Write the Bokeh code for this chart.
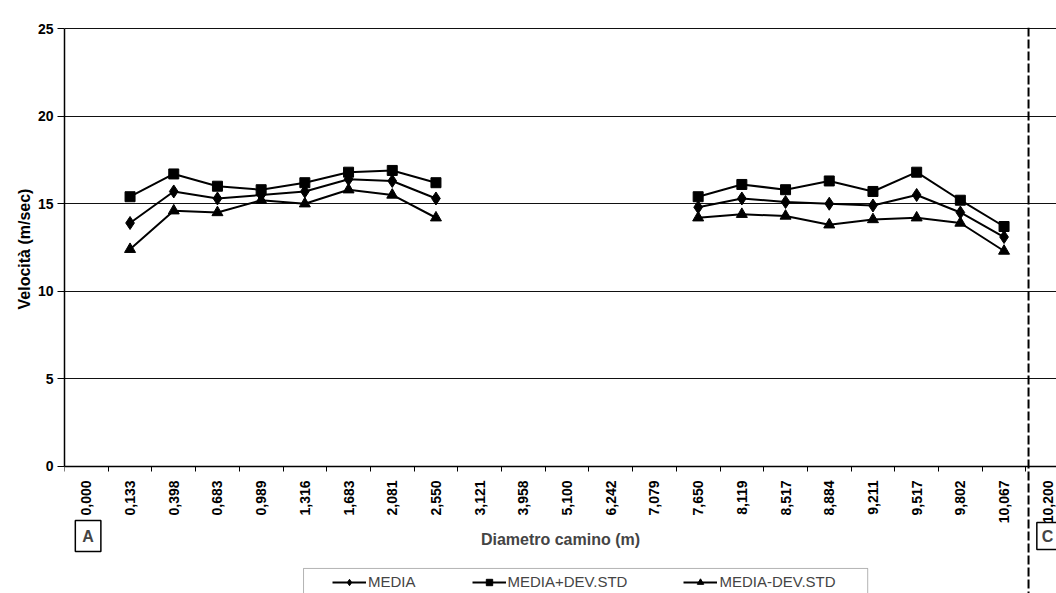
import math
from bokeh.plotting import figure
from bokeh.models import (FixedTicker, Legend, LegendItem, Label, Span, Range1d, Title,
                          BoxAnnotation)
from bokeh.embed import file_html
from bokeh.resources import INLINE

categories = ["0,000", "0,133", "0,398", "0,683", "0,989", "1,316", "1,683", "2,081",
              "2,550", "3,121", "3,958", "5,100", "6,242", "7,079", "7,650", "8,119",
              "8,517", "8,884", "9,211", "9,517", "9,802", "10,067", "10,200"]
nan = float("nan")
media = [nan, 13.9, 15.7, 15.3, 15.5, 15.7, 16.4, 16.3, 15.3, nan, nan, nan, nan, nan,
         14.8, 15.3, 15.1, 15.0, 14.9, 15.5, 14.5, 13.1, nan]
media_plus = [nan, 15.4, 16.7, 16.0, 15.8, 16.2, 16.8, 16.9, 16.2, nan, nan, nan, nan, nan,
              15.4, 16.1, 15.8, 16.3, 15.7, 16.8, 15.2, 13.7, nan]
media_minus = [nan, 12.4, 14.6, 14.5, 15.2, 15.0, 15.8, 15.5, 14.2, nan, nan, nan, nan, nan,
               14.2, 14.4, 14.3, 13.8, 14.1, 14.2, 13.9, 12.3, nan]
y_ticks = [0, 5, 10, 15, 20, 25]

FONT = "Liberation Sans"
xs = list(range(len(categories)))

p = figure(width=1056, height=593, output_backend="svg", toolbar_location=None,
           x_range=Range1d(-0.5, 22.2), y_range=Range1d(-7.25, 25.06),
           min_border_left=64, min_border_right=0, min_border_top=27, min_border_bottom=0)
p.outline_line_color = None
p.background_fill_color = "white"
p.xgrid.visible = False
p.ygrid.grid_line_color = "#111111"
p.ygrid.grid_line_width = 1.2

# x axis, drawn at y = 0 inside the frame
p.xaxis.fixed_location = 0
p.xaxis.ticker = FixedTicker(ticks=xs, minor_ticks=[i - 0.5 for i in range(len(categories) + 1)])
p.xaxis.major_label_overrides = {i: c for i, c in enumerate(categories)}
p.xaxis.major_label_orientation = math.pi / 2
p.xaxis.major_tick_line_color = None
p.xaxis.minor_tick_line_color = "black"
p.xaxis.minor_tick_out = 5
p.xaxis.minor_tick_in = 0
p.xaxis.major_label_standoff = 8
p.xaxis.axis_line_color = "black"
p.xaxis.axis_line_width = 1.5
p.xaxis.major_label_text_font = FONT
p.xaxis.major_label_text_font_style = "bold"
p.xaxis.major_label_text_font_size = "14px"
p.xaxis.major_label_text_color = "black"
p.xaxis.axis_label = "Diametro camino (m)"
p.xaxis.axis_label_text_font = FONT
p.xaxis.axis_label_text_font_style = "bold"
p.xaxis.axis_label_text_font_size = "16px"
p.xaxis.axis_label_standoff = 5

# y axis
p.yaxis.bounds = (0, 25)
p.yaxis.ticker = FixedTicker(ticks=y_ticks)
p.yaxis.minor_tick_line_color = None
p.yaxis.major_tick_out = 7
p.yaxis.major_tick_in = 0
p.yaxis.major_label_standoff = 4
p.yaxis.axis_line_color = "black"
p.yaxis.axis_line_width = 1.5
p.yaxis.major_label_text_font = FONT
p.yaxis.major_label_text_font_style = "bold"
p.yaxis.major_label_text_font_size = "14px"
p.yaxis.major_label_text_color = "black"

p.add_layout(Title(text="Velocità (m/sec)", align="left", offset=284, standoff=4,
                   text_font=FONT, text_font_style="bold", text_font_size="16px",
                   text_color="black"), "left")

series = [
    ("MEDIA", media, "diamond", 13),
    ("MEDIA+DEV.STD", media_plus, "square", 10),
    ("MEDIA-DEV.STD", media_minus, "triangle", 11),
]
items = []
for name, vals, marker, size in series:
    l = p.line(xs, vals, line_color="black", line_width=2)
    s = p.scatter(xs, vals, marker=marker, size=size, fill_color="black", line_color="black")
    items.append(LegendItem(label=name, renderers=[l, s]))

# scan border artefact on the right
p.add_layout(Span(location=21.56, dimension="height", line_color="black",
                  line_width=2, line_dash="9 3"))

# corner markers A and C
for txt, xpos, align, pad in (("A", 0.04, "center", 7), ("C", 21.75, "left", 5)):
    p.add_layout(Label(x=xpos, y=-3.97, text=txt, text_font=FONT, text_font_style="bold",
                       text_font_size="16px", text_align=align, text_baseline="middle",
                       border_line_color="black", border_line_width=1.5,
                       background_fill_color="white", padding=pad))

# legend frame (wide horizontal margins as in the original)
p.add_layout(BoxAnnotation(left=4.97, right=17.88, top=-5.82, bottom=-7.6,
                           fill_alpha=0, line_color="black", line_width=1))

legend = Legend(items=items, orientation="horizontal", location=(268, 3),
                border_line_color=None, background_fill_alpha=0,
                label_text_font=FONT, label_text_font_size="15px",
                glyph_width=34, glyph_height=16, label_height=16, spacing=56, padding=0,
                label_standoff=2, margin=0)
p.add_layout(legend)

open("out.html", "w").write(file_html(p, INLINE))
